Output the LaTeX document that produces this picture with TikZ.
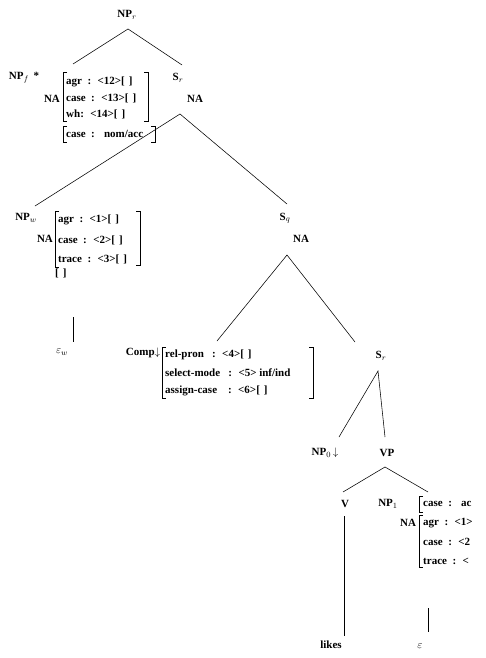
\documentclass[tikz,border=0pt]{standalone}
\usepackage{fontspec}
\setmainfont{Liberation Serif}
\newcommand{\eb}{[\hspace{4pt}]}
\begin{document}
\begin{tikzpicture}[x=1pt,y=-1pt,
  lbl/.style={font=\bfseries\fontsize{11}{13}\selectfont, inner sep=0pt},
  feat/.style={lbl, anchor=west},
  edge/.style={line width=0.55pt},
  brk/.style={line width=0.6pt}]
\clip (0,0) rectangle (485,658);
\fill[white] (0,0) rectangle (485,658);
% ---------- labels ----------
\node[lbl] (npr) at (127,15) {NP$_r$};
\node[lbl] (npf) at (24,78) {NP$_f$ \,*};
\node[lbl] (na1) at (52,99) {NA};
\node[lbl] (sr1) at (178,78) {S$_r$};
\node[lbl] (na2) at (195,99) {NA};
\node[lbl] (npw) at (26,218) {NP$_w$};
\node[lbl] (na3) at (45,239) {NA};
\node[lbl] (sq) at (285,218) {S$_q$};
\node[lbl] (na4) at (301,239) {NA};
\node[lbl] (epsw) at (62,352) {$\varepsilon_w$};
\node[lbl] (comp) at (143,353) {Comp$\downarrow$};
\node[lbl] (sr2) at (381,356) {S$_r$};
\node[lbl] (np0) at (325,453) {NP$_0$\,$\downarrow$};
\node[lbl] (vp) at (387,453) {VP};
\node[lbl] (v) at (345,504) {V};
\node[lbl] (np1) at (388,504) {NP$_1$};
\node[lbl] (na5) at (408,523) {NA};
\node[lbl] (likes) at (331,645) {likes};
\node[lbl] (eps) at (420,646) {$\varepsilon$};
% ---------- feature structures ----------
% NP_f
\node[feat] (f1a) at (66,82) {agr \ : \ <12>\eb};
\node[feat] (f1b) at (66,98) {case \ : \ <13>\eb};
\node[feat] (f1c) at (66,114) {wh: \ <14>\eb};
\draw[brk] (67,72) -- (63,72) -- (63,121) -- (67,121);
\draw[brk] (144,72) -- (148,72) -- (148,121) -- (144,121);
\node[feat] (f1d) at (66,134) {case \ : \ \ nom/acc};
\draw[brk] (67,126) -- (63,126) -- (63,142) -- (67,142);
\draw[brk] (151,126) -- (155,126) -- (155,142) -- (151,142);
% NP_w
\node[feat] (f2a) at (58,220) {agr \ : \ <1>\eb};
\node[feat] (f2b) at (58,240) {case \ : \ <2>\eb};
\node[feat] (f2c) at (58,259) {trace \ : \ <3>\eb};
\node[feat] (f2d) at (55,273) {\eb};
\draw[brk] (59,211) -- (55,211) -- (55,267) -- (59,267);
\draw[brk] (136,211) -- (140,211) -- (140,265) -- (136,265);
% Comp
\node[feat] (f3a) at (165,355) {rel-pron \ \ : \ <4>\eb};
\node[feat] (f3b) at (165,373) {select-mode \ \ : \ <5> inf/ind};
\node[feat] (f3c) at (165,391) {assign-case \ \ \ : \ <6>\eb};
\draw[brk] (166,347) -- (162,347) -- (162,398) -- (166,398);
\draw[brk] (309,347) -- (313,347) -- (313,398) -- (309,398);
% NP_1 (cut off at the right edge, as in the reference)
\node[feat] (f4a) at (423,504) {case \ : \ \ ac};
\draw[brk] (423,496) -- (419,496) -- (419,512) -- (423,512);
\node[feat] (f4b) at (423,523) {agr \ : \ <1>};
\node[feat] (f4c) at (423,542) {case \ : \ <2};
\node[feat] (f4d) at (423,561) {trace \ : \ <};
\draw[brk] (423,515) -- (419,515) -- (419,567) -- (423,567);
% ---------- tree edges ----------
\coordinate (a1) at (128,29);
\coordinate (l1) at (73,64);
\coordinate (r1) at (182,65);
\coordinate (a2) at (180,114);
\coordinate (l2) at (35,206);
\coordinate (r2) at (287,204);
\coordinate (a3) at (287,255);
\coordinate (l3) at (217,341);
\coordinate (r3) at (355,342);
\coordinate (a4) at (378,371);
\coordinate (l4) at (339,437);
\coordinate (r4) at (385,437);
\coordinate (a5) at (385,467);
\coordinate (l5) at (343,492);
\coordinate (r5) at (428,492);
\coordinate (wt) at (73,317);
\coordinate (wb) at (73,342);
\coordinate (vt) at (344,516);
\coordinate (vb) at (344,636);
\coordinate (et) at (428,608);
\coordinate (ebot) at (428,632);
\draw[edge] (l1) -- (a1) -- (r1);
\draw[edge] (l2) -- (a2) -- (r2);
\draw[edge] (l3) -- (a3) -- (r3);
\draw[edge] (l4) -- (a4) -- (r4);
\draw[edge] (l5) -- (a5) -- (r5);
\draw[edge] (wt) -- (wb);
\draw[edge] (vt) -- (vb);
\draw[edge] (et) -- (ebot);
\end{tikzpicture}
\end{document}
